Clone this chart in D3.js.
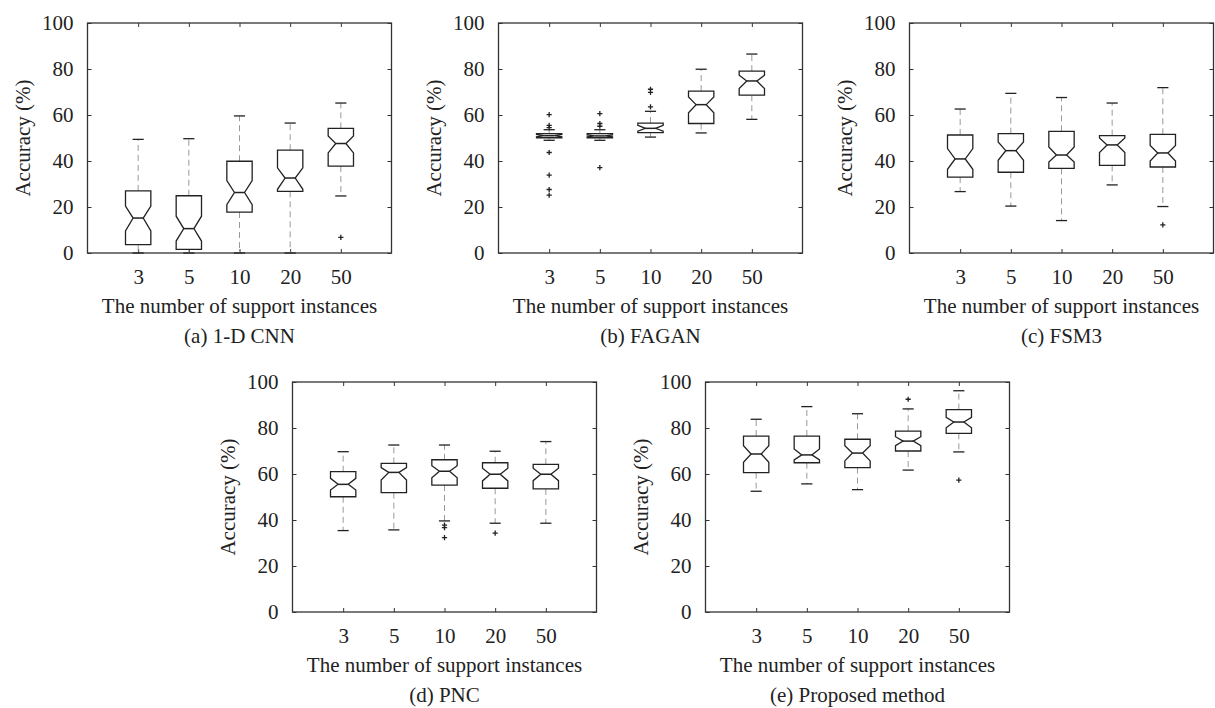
<!DOCTYPE html>
<html>
<head>
<meta charset="utf-8">
<script src="https://cdn.jsdelivr.net/npm/d3@7"></script>
<style>
  body { margin: 0; background: #fff; }
  svg text { font-family: "Liberation Serif", "Times New Roman", serif; fill: #222; }
</style>
</head>
<body>
<svg id="chart" width="1215" height="708"></svg>
<script>
const categories = ['3', '5', '10', '20', '50']
const yTickValues = [0, 20, 40, 60, 80, 100]
const captions = ['(a) 1-D CNN', '(b) FAGAN', '(c) FSM3', '(d) PNC', '(e) Proposed method']

// each row: [lower whisker, q1, notch low, median, notch high, q3, upper whisker]
const cnnStats = [
  [0, 3.6, 9.6, 15.2, 20.4, 27.0, 49.4],
  [0, 1.6, 5.2, 10.6, 16.0, 24.9, 49.7],
  [0, 17.8, 21.0, 26.3, 31.5, 39.9, 59.6],
  [0, 26.8, 27.7, 32.6, 37.0, 44.7, 56.5],
  [24.8, 37.8, 43.5, 47.6, 50.9, 54.2, 65.2]
]
const cnnOutliers = [[], [], [], [], [6.8]]

const faganStats = [
  [49.0, 50.1, 50.5, 51.0, 51.5, 51.9, 53.6],
  [49.0, 50.1, 50.5, 50.9, 51.3, 51.9, 53.6],
  [50.4, 52.3, 53.0, 54.2, 55.5, 56.5, 61.6],
  [52.2, 56.3, 61.0, 64.5, 67.8, 70.4, 79.9],
  [58.1, 68.6, 71.5, 74.8, 77.3, 79.1, 86.5]
]
const faganOutliers = [
  [60.2, 55.5, 54.5, 43.7, 33.9, 27.6, 25.2],
  [60.6, 56.3, 55.1, 37.1],
  [71.2, 69.8, 63.5],
  [],
  []
]

const fsm3Stats = [
  [26.7, 33.0, 36.4, 40.9, 45.4, 51.3, 62.6],
  [20.4, 35.1, 40.3, 44.5, 48.3, 51.9, 69.4],
  [14.1, 36.8, 39.6, 42.6, 46.1, 52.9, 67.6],
  [29.6, 38.1, 43.7, 47.0, 50.0, 51.0, 65.2],
  [20.2, 37.4, 40.0, 43.5, 46.8, 51.6, 71.9]
]
const fsm3Outliers = [[], [], [], [], [12.2]]

const pncStats = [
  [35.4, 50.1, 53.0, 55.5, 58.1, 61.0, 69.7],
  [35.7, 51.9, 57.4, 60.7, 62.8, 64.6, 72.6],
  [39.6, 55.2, 58.4, 61.2, 63.6, 66.2, 72.6],
  [38.6, 53.8, 57.0, 59.9, 62.5, 64.9, 69.9],
  [38.6, 53.5, 57.1, 59.9, 62.5, 64.2, 74.1]
]
const pncOutliers = [[], [], [37.8, 36.7, 32.3], [34.3], []]

const proposedStats = [
  [52.5, 60.6, 65.1, 68.7, 72.3, 76.5, 83.8],
  [55.7, 64.9, 66.1, 68.3, 70.9, 76.5, 89.3],
  [53.2, 62.8, 65.7, 69.1, 72.3, 75.1, 86.2],
  [61.7, 70.0, 72.3, 74.3, 76.2, 78.6, 88.3],
  [69.6, 77.7, 80.1, 82.6, 84.6, 88.0, 96.2]
]
const proposedOutliers = [[], [], [], [92.5], [57.3]]

const panels = [
  { stats: cnnStats, outliers: cnnOutliers, left: 87.5, top: 23 },
  { stats: faganStats, outliers: faganOutliers, left: 498.5, top: 23 },
  { stats: fsm3Stats, outliers: fsm3Outliers, left: 909.5, top: 23 },
  { stats: pncStats, outliers: pncOutliers, left: 292.5, top: 382 },
  { stats: proposedStats, outliers: proposedOutliers, left: 705.5, top: 382 }
]

const W = 304
const H = 230
const svg = d3.select('#chart')

panels.forEach((p, i) => {
  const g = svg.append('g').attr('transform', `translate(${p.left},${p.top})`)

  const x = d3.scaleLinear().domain([0, categories.length + 1]).range([0, W])
  const y = d3.scaleLinear().domain([0, 100]).range([H, 0])
  const unit = x(1) - x(0)
  const boxHalf = 0.25 * unit
  const notchHalf = 0.1 * unit
  const capHalf = 0.11 * unit

  // axes with inward ticks
  const xTicks = categories.map((c, k) => k + 1)
  g.append('g').attr('transform', `translate(0,${H})`)
    .call(d3.axisBottom(x).tickValues(xTicks).tickFormat((d, k) => categories[k])
      .tickSize(-4).tickPadding(16))
  g.append('g')
    .call(d3.axisTop(x).tickValues(xTicks).tickFormat('').tickSize(-4))
  g.append('g')
    .call(d3.axisLeft(y).tickValues(yTickValues).tickSize(-4).tickPadding(14))
  g.append('g').attr('transform', `translate(${W},0)`)
    .call(d3.axisRight(y).tickValues(yTickValues).tickFormat('').tickSize(-4))

  g.selectAll('.domain').remove()
  g.selectAll('.tick line').attr('stroke', '#333').attr('stroke-width', 1)
  g.selectAll('.tick text').attr('font-size', 21)
    .style('font-family', '"Liberation Serif", "Times New Roman", serif').attr('fill', '#222')

  g.append('rect')
    .attr('width', W).attr('height', H)
    .attr('fill', 'none').attr('stroke', '#333').attr('stroke-width', 1.3)

  // boxes
  p.stats.forEach((s, k) => {
    const [lo, q1, nLo, med, nHi, q3, hi] = s
    const cx = x(k + 1)
    const b = g.append('g')

    b.append('line')
      .attr('x1', cx).attr('x2', cx).attr('y1', y(q3)).attr('y2', y(hi))
      .attr('stroke', '#999').attr('stroke-dasharray', '6,4')
    b.append('line')
      .attr('x1', cx).attr('x2', cx).attr('y1', y(q1)).attr('y2', y(lo))
      .attr('stroke', '#999').attr('stroke-dasharray', '6,4')
    ;[lo, hi].forEach(v => {
      b.append('line')
        .attr('x1', cx - capHalf).attr('x2', cx + capHalf)
        .attr('y1', y(v)).attr('y2', y(v))
        .attr('stroke', '#222').attr('stroke-width', 1.3)
    })

    const pts = [
      [cx - boxHalf, y(q3)], [cx + boxHalf, y(q3)],
      [cx + boxHalf, y(nHi)], [cx + notchHalf, y(med)],
      [cx + boxHalf, y(nLo)], [cx + boxHalf, y(q1)],
      [cx - boxHalf, y(q1)], [cx - boxHalf, y(nLo)],
      [cx - notchHalf, y(med)], [cx - boxHalf, y(nHi)]
    ]
    b.append('path')
      .attr('d', d3.line()(pts) + 'Z')
      .attr('fill', '#fff').attr('stroke', '#222').attr('stroke-width', 1.3)
    b.append('line')
      .attr('x1', cx - notchHalf).attr('x2', cx + notchHalf)
      .attr('y1', y(med)).attr('y2', y(med))
      .attr('stroke', '#222').attr('stroke-width', 1.5)

    p.outliers[k].forEach(v => {
      const oy = y(v)
      b.append('path')
        .attr('d', `M${cx - 2.6},${oy}H${cx + 2.6}M${cx},${oy - 2.6}V${oy + 2.6}`)
        .attr('stroke', '#222').attr('stroke-width', 1.3)
    })
  })

  // labels
  g.append('text')
    .attr('transform', `translate(${-65},${H / 2}) rotate(-90)`)
    .attr('text-anchor', 'middle').attr('dy', '0.35em')
    .attr('font-size', 21)
    .text('Accuracy (%)')
  g.append('text')
    .attr('x', W / 2).attr('y', H + 60)
    .attr('text-anchor', 'middle').attr('font-size', 21)
    .text('The number of support instances')
  g.append('text')
    .attr('x', W / 2).attr('y', H + 90)
    .attr('text-anchor', 'middle').attr('font-size', 21)
    .text(captions[i])
})
</script>
</body>
</html>
